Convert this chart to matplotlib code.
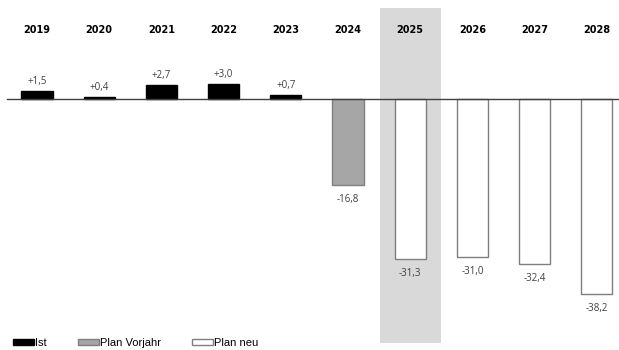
import matplotlib
matplotlib.use("Agg")
import matplotlib.pyplot as plt
from matplotlib.patches import Patch

# Daten
jahre = ["2019", "2020", "2021", "2022", "2023", "2024", "2025", "2026", "2027", "2028"]
werte = [1.5, 0.4, 2.7, 3.0, 0.7, -16.8, -31.3, -31.0, -32.4, -38.2]
typ = ["Ist", "Ist", "Ist", "Ist", "Ist", "Plan Vorjahr", "Plan neu", "Plan neu", "Plan neu", "Plan neu"]
markiert = "2025"

farben = {"Ist": ("black", "black"),
          "Plan Vorjahr": ("#a6a6a6", "#7f7f7f"),
          "Plan neu": ("white", "#7f7f7f")}

plt.rcParams['font.family'] = ['Open Sans', 'DejaVu Sans']

fig = plt.figure(figsize=(6.19, 3.5), dpi=100)
ax = fig.add_axes([0, 0, 1, 1])
ax.set_xlim(-0.595, 9.357)
ax.set_ylim(-49.2, 19.41)
ax.axis("off")

x = list(range(len(jahre)))

# grau hinterlegtes Jahr
i_mark = jahre.index(markiert)
ax.axvspan(i_mark - 0.49, i_mark + 0.49, ymin=(-47.8 + 49.2) / 68.61, ymax=(17.84 + 49.2) / 68.61,
           color="#d9d9d9", zorder=0, lw=0)

for xi, v, t in zip(x, werte, typ):
    fc, ec = farben[t]
    ax.bar(xi, v, width=0.5, color=fc, edgecolor=ec, linewidth=1.0, zorder=2)
    txt = f"{v:+.1f}".replace(".", ",")
    if v > 0:
        ax.annotate(txt, (xi, v), xytext=(0, 3), textcoords="offset points",
                    ha="center", va="bottom", fontsize=7, color="#404040")
    else:
        ax.annotate(txt, (xi, v), xytext=(0, -6.5), textcoords="offset points",
                    ha="center", va="top", fontsize=7, color="#404040")

# Jahreszahlen oben
for xi, j in zip(x, jahre):
    ax.text(xi, 13.5, j, ha="center", va="center", fontsize=7, fontweight="bold",
            family=["DejaVu Sans"])

# Nulllinie
ax.plot([-0.48, 9.357], [0, 0], color="#404040", linewidth=1.0, zorder=3)

# Legende
handles = [Patch(facecolor=farben[k][0], edgecolor=farben[k][1], label=k)
           for k in ["Ist", "Plan Vorjahr", "Plan neu"]]
ax.legend(handles=handles, loc="lower left", bbox_to_anchor=(0.005, -0.022), ncol=3,
          frameon=False, handlelength=1.9, handleheight=0.4,
          handletextpad=0.05, columnspacing=2.85, prop={"family": "Liberation Sans", "size": 8})

fig.savefig("out.png", dpi=100)
